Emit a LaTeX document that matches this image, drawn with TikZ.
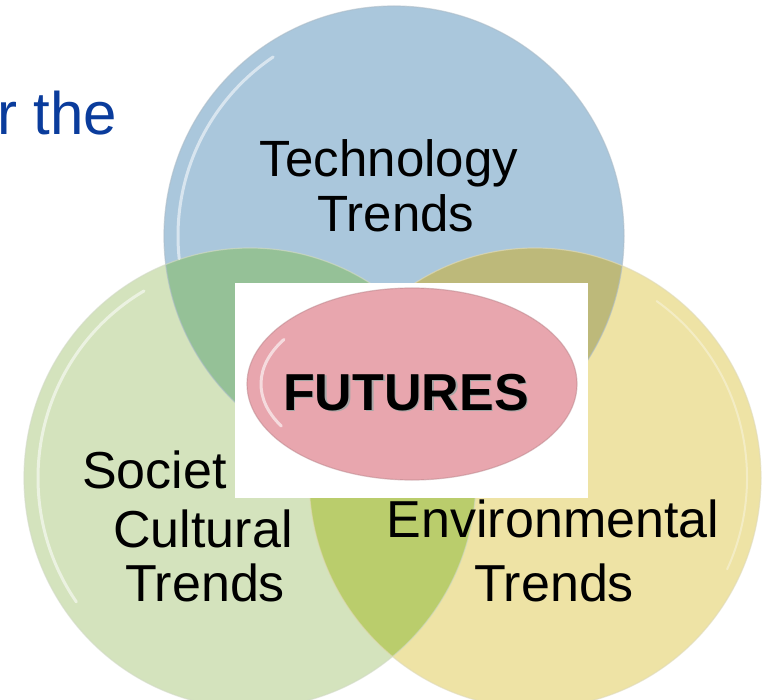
\documentclass[tikz,border=0pt]{standalone}
\usepackage{fontspec}
\setmainfont{Liberation Sans}
\definecolor{techfill}{HTML}{AAC7DC}
\definecolor{socfill}{HTML}{D4E3BD}
\definecolor{envfill}{HTML}{EEE3A5}
\definecolor{techsoc}{HTML}{95C197}
\definecolor{socenv}{HTML}{BACD6C}
\definecolor{techenv}{HTML}{BDB97A}
\definecolor{futfill}{HTML}{E8A6AE}
\definecolor{titleblue}{HTML}{0A3C9C}
\begin{document}
\begin{tikzpicture}[x=1pt,y=-1pt,
  trendlbl/.style={inner sep=0pt, anchor=base, text=black,
    font=\fontsize{52}{56}\selectfont},
  techlbl/.style={trendlbl, font=\fontsize{51}{55}\selectfont},
  gloss/.style={white, line width=3pt, opacity=0.55, line cap=round},
  rim/.style={line width=1.2pt, opacity=0.6}]
\useasboundingbox (0,0) rectangle (765,700);
\fill[white] (0,0) rectangle (765,700);

% the three trend discs
\fill[techfill] (394,236) circle [radius=230];
\fill[socfill] (250,478) ellipse [x radius=226, y radius=230];
\fill[envfill] (535,478) ellipse [x radius=226, y radius=230];

% pairwise overlaps
\begin{scope}
  \clip (250,478) ellipse [x radius=226, y radius=230];
  \fill[socenv] (535,478) ellipse [x radius=226, y radius=230];
\end{scope}
\begin{scope}
  \clip (394,236) circle [radius=230];
  \fill[techsoc] (250,478) ellipse [x radius=226, y radius=230];
\end{scope}
\begin{scope}
  \clip (394,236) circle [radius=230];
  \fill[techenv] (535,478) ellipse [x radius=226, y radius=230];
\end{scope}

% rims
\draw[rim, draw=techfill!80!black!70] (394,236) circle [radius=230];
\draw[rim, draw=socfill!85!black!60] (250,478) ellipse [x radius=226, y radius=230];
\draw[rim, draw=envfill!85!black!60] (535,478) ellipse [x radius=226, y radius=230];

% glossy highlights along the rims
\draw[gloss] (394,236) ++(174:216) arc [start angle=174, end angle=236, radius=216];
\draw[gloss] (250,478) ++(145:212 and 216) arc [start angle=145, end angle=240, x radius=212, y radius=216];
\draw[gloss, opacity=0.35, line width=2pt] (535,478) ++(-55:212 and 216) arc [start angle=-55, end angle=25, x radius=212, y radius=216];

% centre panel
\fill[white] (235,283) rectangle (588,498);
\fill[futfill] (412,384) ellipse [x radius=165, y radius=96];
\draw[line width=1.2pt, draw=futfill!80!black, opacity=0.5] (412,384) ellipse [x radius=165, y radius=96];
\draw[gloss, opacity=0.6] (412,384) ++(150:151 and 84) arc [start angle=150, end angle=212, x radius=151, y radius=84];

% heading fragment
\node[inner sep=0pt, anchor=base west, text=titleblue,
  font=\fontsize{60}{64}\selectfont] (title) at (-3,135) {r the};

% disc labels
\node[techlbl] (techA) at (389,177) {Technology};
\node[techlbl] (techB) at (396,232) {Trends};
\node[trendlbl, anchor=base west] (socA) at (82,488) {Societ};
\node[trendlbl] (socB) at (203,547) {Cultural};
\node[trendlbl] (socC) at (205,601) {Trends};
\node[trendlbl] (envA) at (553,537) {Environmental};
\node[trendlbl] (envB) at (554,601) {Trends};

% centre label with its drop shadow
\node[inner sep=0pt, anchor=base, text=black!35,
  font=\fontsize{52}{56}\selectfont\bfseries] (futshadow) at (407.5,411.5) {FUTURES};
\node[inner sep=0pt, anchor=base, text=black,
  font=\fontsize{52}{56}\selectfont\bfseries] (futures) at (406,410) {FUTURES};
\end{tikzpicture}
\end{document}
